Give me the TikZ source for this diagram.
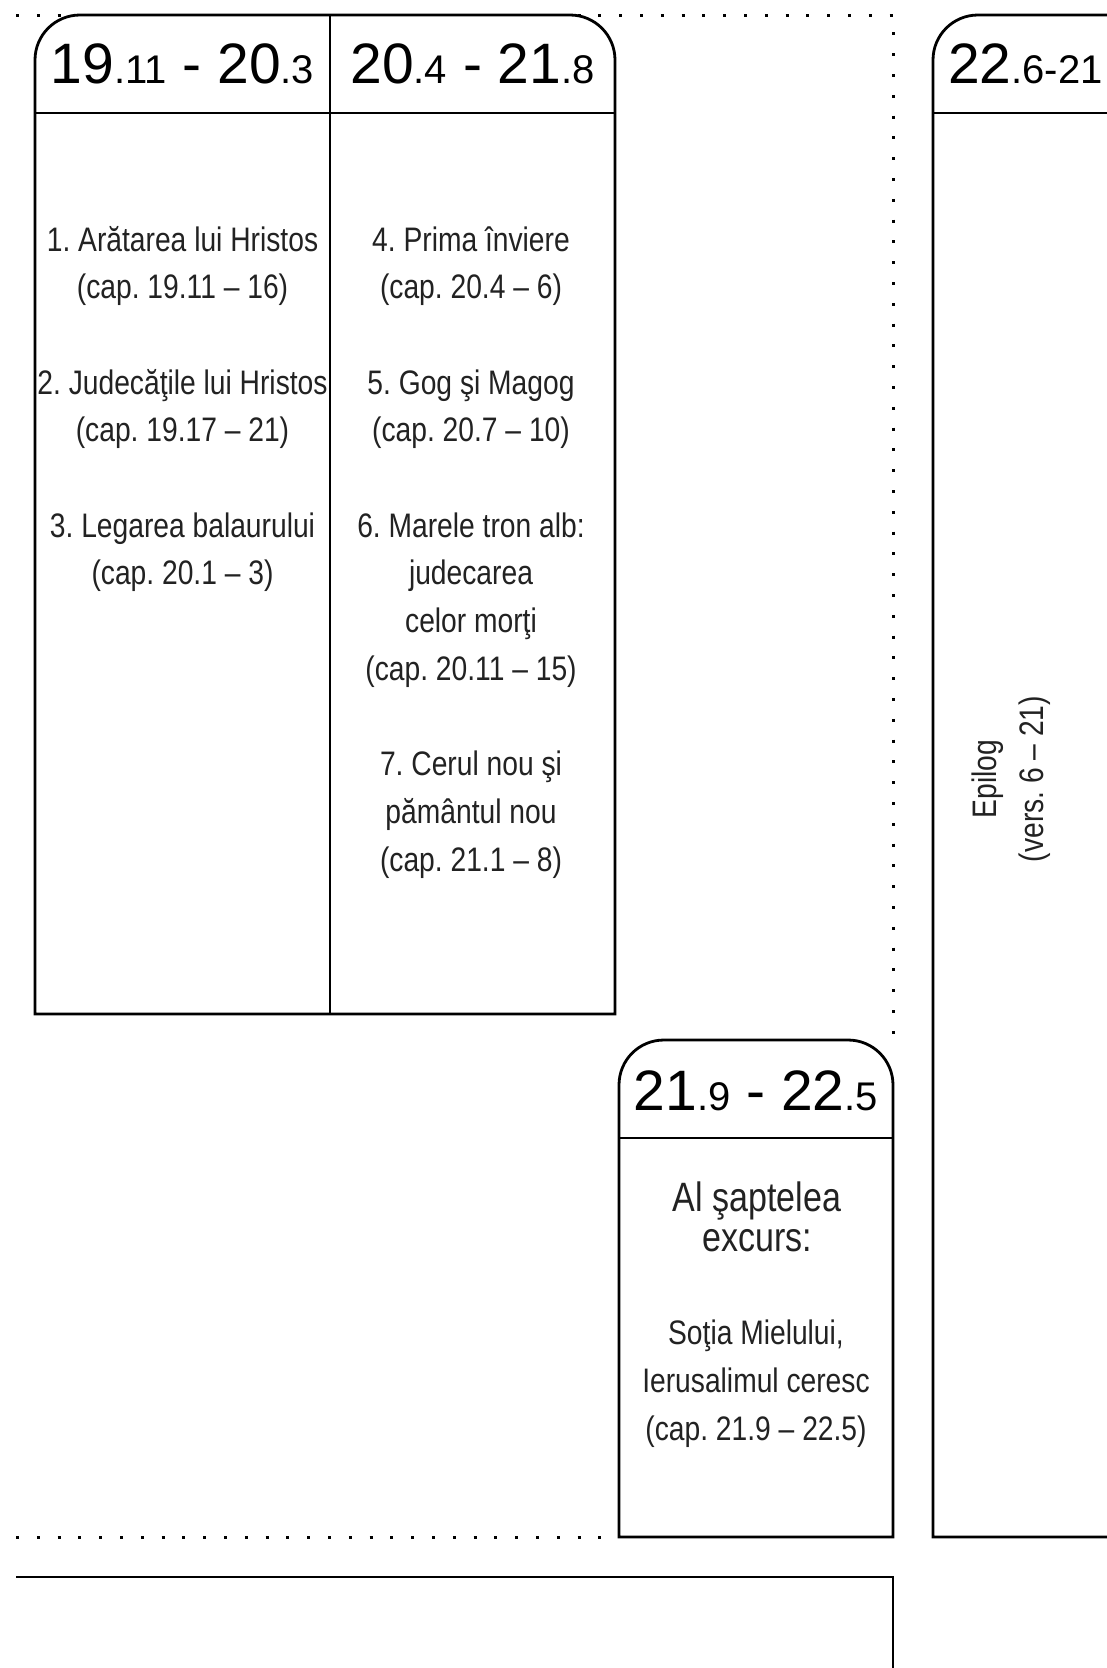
\documentclass[tikz,border=0pt]{standalone}
\usepackage{fontspec}
\setmainfont{Liberation Sans}
\newfontfamily\narrowf[FakeStretch=0.83]{Liberation Sans}
\definecolor{txt}{HTML}{222222}
\newcommand{\hdbig}{\fontsize{57}{60}\selectfont}
\newcommand{\hdsmall}{\fontsize{40}{42}\selectfont}
\frenchspacing
\tikzset{
  boxline/.style={line width=2.8pt, draw=black, fill=white},
  sepline/.style={line width=2.8pt, draw=black},
  dotline/.style={line width=3pt, dash pattern=on 3pt off 17.8pt, line cap=butt},
  hdr/.style={font=\hdbig, anchor=base, inner sep=0pt},
  body/.style={font=\narrowf\fontsize{34}{48}\selectfont, text=txt, anchor=base, inner sep=0pt},
  excl/.style={font=\narrowf\fontsize{41}{44}\selectfont, text=txt, anchor=base, inner sep=0pt},
}
\begin{document}
\begin{tikzpicture}[x=1pt,y=-1pt]
\useasboundingbox (0,0) rectangle (1107,1668);
\clip (0,0) rectangle (1107,1668);
% dotted frame
\draw[dotline] (16,15) -- (893,15) -- (893,1040);
\draw[dotline] (16,1537) -- (619,1537);
% box A (two columns)
\draw[boxline] (35,1014) -- (35,60) .. controls (35,35.1) and (55.1,15) .. (80,15)
  -- (570,15) .. controls (594.9,15) and (615,35.1) .. (615,60) -- (615,1014) -- cycle;
\draw[sepline] (35,113) -- (615,113);
\draw[sepline] (330,15) -- (330,1014);
% box B
\draw[boxline] (619,1537) -- (619,1085) .. controls (619,1060.1) and (638.9,1040) .. (664,1040)
  -- (848,1040) .. controls (872.9,1040) and (893,1060.1) .. (893,1085) -- (893,1537) -- cycle;
\draw[sepline] (619,1138) -- (893,1138);
% box C
\draw[boxline] (1150,1537) -- (933,1537) -- (933,60) .. controls (933,35.1) and (953.1,15) .. (978,15)
  -- (1150,15) -- cycle;
\draw[sepline] (933,113) -- (1150,113);
% bottom box
\draw[sepline] (16,1577) -- (893,1577) -- (893,1700);
% headers
\node[hdr] (h1) at (182.5,83) {19{\hdsmall.11} - 20{\hdsmall.3}};
\node[hdr] (h2) at (472.5,83) {20{\hdsmall.4} - 21{\hdsmall.8}};
\node[hdr] (h3) at (756,1110) {21{\hdsmall.9} - 22{\hdsmall.5}};
\node[hdr, anchor=base west] (h4) at (948,83) {22{\hdsmall.6-21}};
% column 1
\node[body] (a1) at (182.5,251) {1. Arătarea lui Hristos};
\node[body] (a2) at (182.5,298.7) {(cap. 19.11 – 16)};
\node[body] (a3) at (182.5,394.1) {2. Judecăţile lui Hristos};
\node[body] (a4) at (182.5,441.8) {(cap. 19.17 – 21)};
\node[body] (a5) at (182.5,537.2) {3. Legarea balaurului};
\node[body] (a6) at (182.5,584.9) {(cap. 20.1 – 3)};
% column 2
\node[body] (b1) at (471,251) {4. Prima înviere};
\node[body] (b2) at (471,298.7) {(cap. 20.4 – 6)};
\node[body] (b3) at (471,394.1) {5. Gog şi Magog};
\node[body] (b4) at (471,441.8) {(cap. 20.7 – 10)};
\node[body] (b5) at (471,537.2) {6. Marele tron alb:};
\node[body] (b6) at (471,584.9) {judecarea};
\node[body] (b7) at (471,632.6) {celor morţi};
\node[body] (b8) at (471,680.3) {(cap. 20.11 – 15)};
\node[body] (b9) at (471,775.7) {7. Cerul nou şi};
\node[body] (b10) at (471,823.4) {pământul nou};
\node[body] (b11) at (471,871.1) {(cap. 21.1 – 8)};
% box B body
\node[excl] (c1) at (757,1211) {Al şaptelea};
\node[excl] (c2) at (757,1251) {excurs:};
\node[body] (c3) at (756,1344) {Soţia Mielului,};
\node[body] (c4) at (756,1392) {Ierusalimul ceresc};
\node[body] (c5) at (756,1440) {(cap. 21.9 – 22.5)};
% box C body
\node[body, rotate=90] (d1) at (996,779) {Epilog};
\node[body, rotate=90] (d2) at (1043,779) {(vers. 6 – 21)};
\end{tikzpicture}
\end{document}
